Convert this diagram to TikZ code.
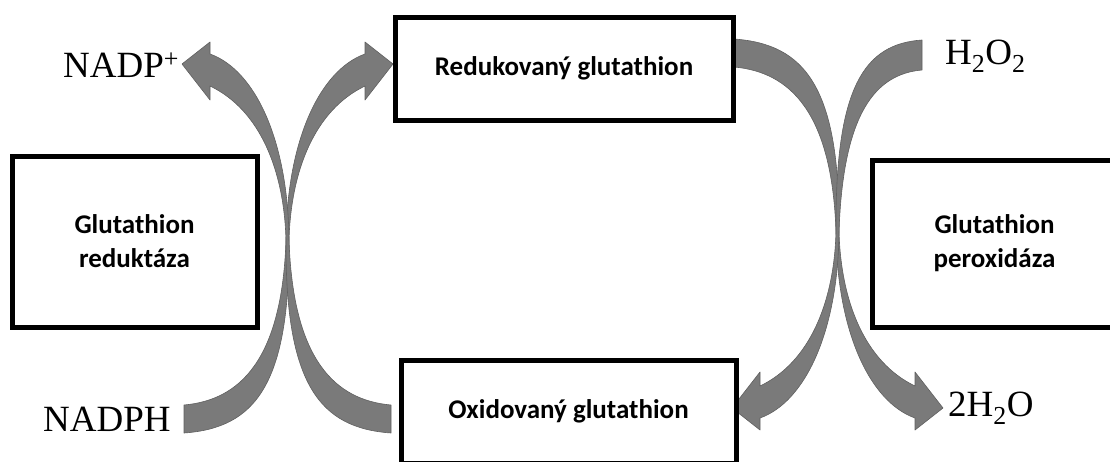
\documentclass[tikz,border=0pt]{standalone}
\usepackage{fontspec}
\setmainfont{Liberation Serif}
\newfontfamily\boxfont{Carlito}
\usepackage{xcolor}

\definecolor{arrgray}{RGB}{122,122,122}
\definecolor{arredge}{RGB}{96,96,96}

\tikzset{
  enzbox/.style={draw, line width=5pt, rectangle, fill=white, align=center, inner sep=0pt,
    font=\boxfont\bfseries\fontsize{27}{34}\selectfont},
  chem/.style={font=\fontsize{37}{40}\selectfont, inner sep=0pt, anchor=base west},
  band/.style={fill=arrgray, draw=arredge, line width=0.6pt, line join=round}
}

\begin{document}
\begin{tikzpicture}[x=1pt,y=-1pt]

\useasboundingbox (0,0) rectangle (1110,461);
\clip (0,0) rectangle (1110,461);

% left pair: NADPH -> reduced, oxidized -> NADP+
\fill[band] (184,405) .. controls (240,400) and (282,360) .. (286,240)
  .. controls (287,140) and (320,70) .. (365,54) -- (365,42) -- (393,64) -- (365,100) -- (365,86)
  .. controls (315,110) and (291,170) .. (289,240) .. controls (290,385) and (255,428) .. (184,433) -- cycle;
\fill[band] (391,405) .. controls (335,400) and (293,360) .. (289,240)
  .. controls (288,140) and (255,70) .. (210,54) -- (210,42) -- (182,64) -- (210,100) -- (210,86)
  .. controls (260,110) and (284,170) .. (286,240) .. controls (285,385) and (320,428) .. (391,433) -- cycle;

% right pair: reduced -> 2H2O, H2O2 -> oxidized
\fill[band] (734,67) .. controls (790,72) and (832,112) .. (836,232)
  .. controls (837,332) and (870,402) .. (915,418) -- (915,430) -- (943,408) -- (915,372) -- (915,386)
  .. controls (865,362) and (841,302) .. (839,232) .. controls (840,87) and (805,44) .. (734,39) -- cycle;
\fill[band] (922,70) .. controls (876,74) and (843,112) .. (839,232)
  .. controls (838,332) and (805,402) .. (760,418) -- (760,430) -- (732,408) -- (760,372) -- (760,386)
  .. controls (810,362) and (834,302) .. (836,232) .. controls (835,87) and (864,44) .. (922,40) -- cycle;

\node[enzbox, minimum width=338pt, minimum height=103pt] (red) at (564,68.5) {Redukovaný glutathion};
\node[enzbox, minimum width=335pt, minimum height=103pt] (ox) at (568.5,411.5) {Oxidovaný glutathion};
\node[enzbox, minimum width=245pt, minimum height=171pt] (gr) at (134.5,241.5) {Glutathion\\reduktáza};
\node[enzbox, minimum width=245pt, minimum height=167pt] (gpx) at (994.5,243.5) {Glutathion\\peroxidáza};

\node[chem] (nadp) at (63,77) {NADP\textsuperscript{+}};
\node[chem] (nadph) at (43,431) {NADPH};
\node[chem] (hoo) at (945,64) {H\textsubscript{2}O\textsubscript{2}};
\node[chem] (hho) at (948,416) {2H\textsubscript{2}O};

\end{tikzpicture}
\end{document}
